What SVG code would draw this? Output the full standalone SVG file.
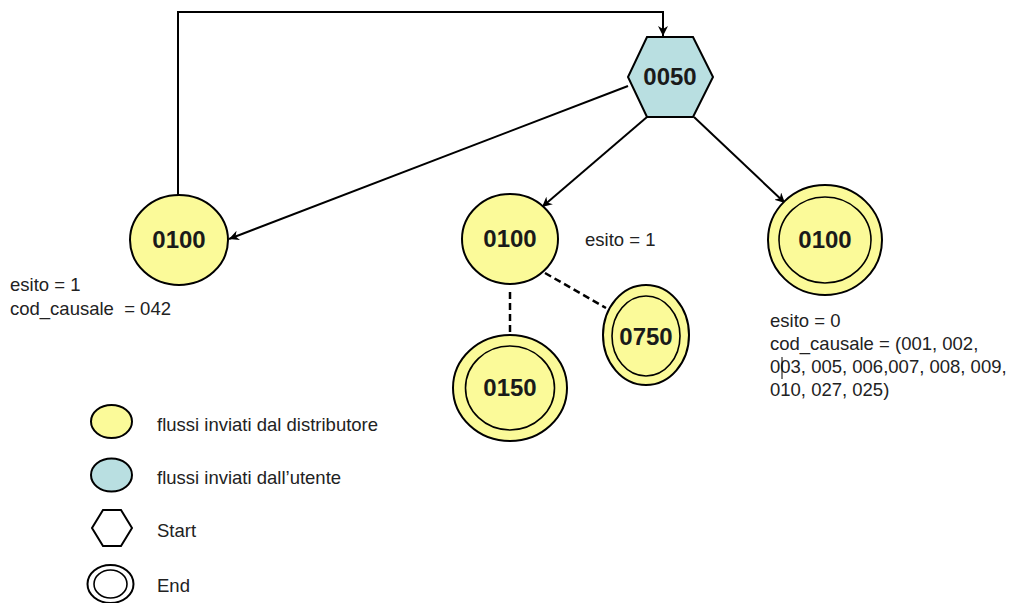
<svg xmlns="http://www.w3.org/2000/svg" width="1015" height="603" viewBox="0 0 1015 603">
<defs>
<marker id="arr" viewBox="0 0 10 10" refX="10" refY="5" markerWidth="10" markerHeight="10" markerUnits="userSpaceOnUse" orient="auto">
<path d="M0,0 L10,5 L0,10 L3,5 z" fill="#000"/>
</marker>
<style>
.y{fill:#fbfa99;stroke:#000;stroke-width:2}
.b{fill:#b9dfe1;stroke:#000;stroke-width:2}
.w{fill:#fff;stroke:#000;stroke-width:2}
.in{fill:none;stroke:#000;stroke-width:1.6}
.lbl{font-family:"Liberation Sans",Arial,sans-serif;font-weight:bold;font-size:24px;fill:#1a1a1a;text-anchor:middle}
.t{font-family:"Liberation Sans",Arial,sans-serif;font-size:18.5px;fill:#222}
.c{stroke:#000;stroke-width:2;fill:none}
.d{stroke:#000;stroke-width:2.5;fill:none;stroke-dasharray:7,4}
</style>
</defs>
<rect width="1015" height="603" fill="#fff"/>
<g id="connectors">
<path class="c" d="M178,195 L178,12 L663,12 L663,36" marker-end="url(#arr)"/>
<line class="c" x1="628" y1="86" x2="229" y2="239" marker-end="url(#arr)"/>
<line class="c" x1="647" y1="117" x2="542" y2="207" marker-end="url(#arr)"/>
<line class="c" x1="694" y1="117" x2="785" y2="203" marker-end="url(#arr)"/>
<line class="d" x1="510" y1="292" x2="510" y2="334"/>
<line class="d" x1="545" y1="273" x2="606" y2="308"/>
</g>
<g id="n0050">
<polygon class="b" points="647,37 693,37 713,77 693,117 647,117 628,77"/>
<text class="lbl" x="670" y="85">0050</text>
</g>
<g id="n0100a">
<ellipse class="y" cx="179" cy="240" rx="49" ry="45"/>
<text class="lbl" x="179" y="248">0100</text>
</g>
<g id="n0100b">
<ellipse class="y" cx="510" cy="239" rx="48" ry="45"/>
<text class="lbl" x="510" y="247">0100</text>
</g>
<g id="n0100c">
<ellipse class="y" cx="825" cy="240" rx="57" ry="55"/>
<ellipse class="in" cx="825" cy="240" rx="46" ry="43"/>
<text class="lbl" x="825" y="248">0100</text>
</g>
<g id="n0150">
<ellipse class="y" cx="510" cy="388" rx="57" ry="53"/>
<ellipse class="in" cx="510" cy="388" rx="44.5" ry="42"/>
<text class="lbl" x="510" y="396">0150</text>
</g>
<g id="n0750">
<ellipse class="y" cx="646" cy="335" rx="43" ry="50"/>
<ellipse class="in" cx="646" cy="336" rx="34" ry="40"/>
<text class="lbl" x="646" y="345">0750</text>
</g>
<g id="notes">
<text class="t" x="585" y="246">esito = 1</text>
<text class="t" x="10" y="291">esito = 1</text>
<text class="t" x="10" y="315" xml:space="preserve">cod_causale  = 042</text>
<text class="t" x="770" y="327">esito = 0</text>
<text class="t" x="770" y="350">cod_causale = (001, 002,</text>
<text class="t" x="770" y="373">003, 005, 006,007, 008, 009,</text>
<text class="t" x="770" y="396">010, 027, 025)</text>
<line x1="782" y1="357" x2="782" y2="379" stroke="#000" stroke-width="1"/>
</g>
<g id="legend">
<ellipse class="y" cx="111.5" cy="421.5" rx="20.5" ry="16.5"/>
<text class="t" x="157" y="431">flussi inviati dal distributore</text>
<ellipse class="b" cx="111.5" cy="475" rx="20.5" ry="16.5"/>
<text class="t" x="157" y="484">flussi inviati dall’utente</text>
<polygon class="w" points="103,510 121,510 132,528 121,546 103,546 92,528"/>
<text class="t" x="157" y="537">Start</text>
<ellipse class="w" cx="110.5" cy="584" rx="23" ry="19"/>
<ellipse class="in" cx="110.5" cy="584" rx="16.5" ry="14"/>
<text class="t" x="157" y="592">End</text>
</g>
</svg>
